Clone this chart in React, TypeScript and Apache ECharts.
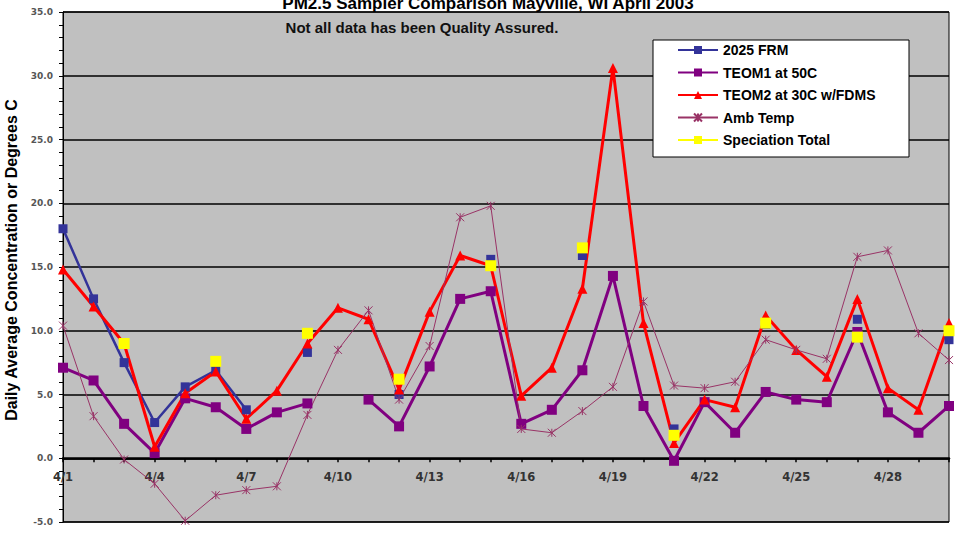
import React, { useEffect, useRef } from 'react';
import * as echarts from 'echarts';

const days = ['4/1','4/2','4/3','4/4','4/5','4/6','4/7','4/8','4/9','4/10','4/11','4/12','4/13','4/14','4/15','4/16','4/17','4/18','4/19','4/20','4/21','4/22','4/23','4/24','4/25','4/26','4/27','4/28','4/29','4/30'];

const frm = [18.0, 12.5, 7.5, 2.8, 5.6, 6.9, 3.8, null, 8.3, null, null, 5.0, null, null, 15.6, null, null, 15.9, null, null, 2.3, null, null, 10.5, null, null, 10.9, null, null, 9.3];

const teom1 = [7.1, 6.1, 2.7, 0.4, 4.7, 4.0, 2.3, 3.6, 4.3, null, 4.6, 2.5, 7.2, 12.5, 13.1, 2.7, 3.8, 6.9, 14.3, 4.1, -0.2, 4.4, 2.0, 5.2, 4.6, 4.4, 9.9, 3.6, 2.0, 4.1];

const teom2 = [14.8, 11.9, 9.0, 0.9, 5.1, 6.8, 3.1, 5.3, 9.0, 11.8, 10.9, 5.4, 11.5, 15.9, 15.1, 4.9, 7.1, 13.3, 30.6, 10.6, 1.2, 4.6, 4.0, 11.2, 8.5, 6.4, 12.5, 5.5, 3.8, 10.6];

const ambTemp = [10.4, 3.3, -0.1, -2.0, -4.9, -2.9, -2.5, -2.2, 3.4, 8.5, 11.6, 4.6, 8.8, 18.9, 19.8, 2.3, 2.0, 3.7, 5.6, 12.3, 5.7, 5.5, 6.0, 9.3, 8.5, 7.8, 15.8, 16.3, 9.8, 7.7];

const speciation = [null, null, 9.0, null, null, 7.6, null, null, 9.8, null, null, 6.2, null, null, 15.1, null, null, 16.5, null, null, 1.8, null, null, 10.6, null, null, 9.5, null, null, 10.0];

const titleText = 'PM2.5 Sampler Comparison Mayville, WI April 2003';
const subtitleText = 'Not all data has been Quality Assured.';
const yTitleText = 'Daily Average Concentration or Degrees C';

const yMin = -5;
const yMax = 35;

export default function App() {
  const ref = useRef<HTMLDivElement>(null);
  useEffect(() => {
    const chart = echarts.init(ref.current!, null, { renderer: 'svg' });
    const font = 'Liberation Sans, Arial, sans-serif';
    const gridTop = 12;
    const gridBottom = 18;
    const plotH = 540 - gridTop - gridBottom;
    // distance from the plot bottom up to the zero line, so the category axis sits on y = 0
    const zeroOffset = -plotH * (0 - yMin) / (yMax - yMin);
    chart.setOption({
      animation: false,
      backgroundColor: '#ffffff',
      grid: {
        left: 63, top: gridTop, right: 21, bottom: gridBottom,
        show: true, backgroundColor: '#c0c0c0', borderColor: '#000', borderWidth: 1,
      },
      xAxis: {
        type: 'category',
        data: days,
        boundaryGap: false,
        offset: zeroOffset,
        axisLine: { onZero: false, lineStyle: { color: '#000', width: 2.5 } },
        axisTick: { show: true, interval: 0, length: 4, lineStyle: { color: '#000', width: 1.5 } },
        axisLabel: { interval: 2, margin: 13, fontSize: 11.5, fontWeight: 'bold', color: '#333', fontFamily: 'DejaVu Sans' },
        splitLine: { show: false },
      },
      yAxis: {
        type: 'value',
        min: yMin, max: yMax, interval: 5,
        axisLine: { show: true, lineStyle: { color: '#000', width: 1 } },
        axisTick: { show: true, length: 4, lineStyle: { color: '#000', width: 1 } },
        minorTick: { show: true, splitNumber: 5, length: 4, lineStyle: { color: '#000', width: 1 } },
        splitLine: { show: true, lineStyle: { color: '#000', width: 1.5 } },
        axisLabel: {
          formatter: (v: number) => v.toFixed(1),
          fontSize: 9, fontWeight: 'bold', color: '#555', fontFamily: 'DejaVu Sans', margin: 10,
        },
      },
      legend: {
        orient: 'vertical',
        left: 677, top: 42,
        padding: 0,
        itemWidth: 40, itemHeight: 10, itemGap: 6.5,
        selectedMode: false,
        z: 10,
        textStyle: { fontSize: 14, fontWeight: 'bold', fontFamily: font, color: '#000', lineHeight: 16 },
        data: ['2025 FRM', 'TEOM1 at 50C', 'TEOM2 at 30C w/FDMS', 'Amb Temp', 'Speciation Total'],
      },
      graphic: [
        {
          type: 'rect', z: 5,
          shape: { x: 653, y: 40, width: 256, height: 117 },
          style: { fill: '#fff', stroke: '#000', lineWidth: 1 },
        },
        {
          type: 'text', z: 10,
          style: { text: titleText, x: 488, y: 3, textAlign: 'center', textVerticalAlign: 'middle', fontSize: 17, fontWeight: 'bold', fontFamily: font, fill: '#000' },
        },
        {
          type: 'text', z: 10,
          style: { text: subtitleText, x: 422, y: 27, textAlign: 'center', textVerticalAlign: 'middle', fontSize: 15, fontWeight: 'bold', fontFamily: font, fill: '#111' },
        },
        {
          type: 'text', z: 10,
          x: 11, y: 260, rotation: Math.PI / 2,
          style: { text: yTitleText, x: 0, y: 0, textAlign: 'center', textVerticalAlign: 'middle', fontSize: 16, fontWeight: 'bold', fontFamily: font, fill: '#000' },
        },
      ],
      series: [
        {
          name: '2025 FRM', type: 'line', data: frm,
          symbol: 'rect', symbolSize: 9,
          lineStyle: { color: '#333399', width: 2.5 },
          itemStyle: { color: '#333399' },
        },
        {
          name: 'TEOM1 at 50C', type: 'line', data: teom1,
          symbol: 'rect', symbolSize: 10,
          lineStyle: { color: '#800080', width: 3 },
          itemStyle: { color: '#800080' },
        },
        {
          name: 'TEOM2 at 30C w/FDMS', type: 'line', data: teom2,
          symbol: 'triangle', symbolSize: 10,
          lineStyle: { color: '#ff0000', width: 3 },
          itemStyle: { color: '#ff0000' },
        },
        {
          name: 'Amb Temp', type: 'line', data: ambTemp,
          symbol: 'path://M0,0L10,10M10,0L0,10M5,0L5,10', symbolSize: 8,
          lineStyle: { color: '#993366', width: 1 },
          itemStyle: { color: '#993366', borderColor: '#993366', borderWidth: 1 },
        },
        {
          name: 'Speciation Total', type: 'line', data: speciation,
          symbol: 'rect', symbolSize: 11,
          lineStyle: { color: '#ffff00', width: 2.5 },
          itemStyle: { color: '#ffff00' },
        },
      ],
    });
    return () => chart.dispose();
  }, []);
  return <div ref={ref} style={{ position: 'absolute', left: 0, top: 0, width: 970, height: 540 }} />;
}
